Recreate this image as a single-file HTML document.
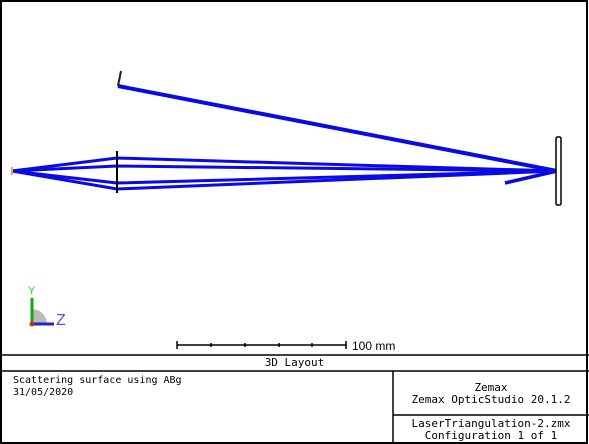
<!DOCTYPE html>
<html><head><meta charset="utf-8">
<style>
html,body{margin:0;padding:0;background:#fff;}
#wrap{position:relative;width:589px;height:444px;overflow:hidden;background:#fff;}
.t{position:absolute;font-family:"DejaVu Sans Mono","Liberation Mono",monospace;font-size:11px;color:#000;white-space:pre;line-height:12px;}
</style></head>
<body>
<div id="wrap">
<svg id="svg" width="589" height="444" style="position:absolute;left:0;top:0">
  <rect x="1" y="1" width="586" height="442" fill="none" stroke="#000" stroke-width="2"/>
  <line x1="0" y1="355" x2="589" y2="355" stroke="#000" stroke-width="1.5"/>
  <line x1="0" y1="371" x2="589" y2="371" stroke="#000" stroke-width="1.5"/>
  <line x1="393" y1="371" x2="393" y2="444" stroke="#000" stroke-width="1.5"/>
  <line x1="393" y1="415" x2="589" y2="415" stroke="#000" stroke-width="1.5"/>
  <g id="rays"></g>
  <line x1="117" y1="151" x2="117" y2="193" stroke="#000" stroke-width="2"/>
  <line x1="118" y1="86" x2="121" y2="71" stroke="#222" stroke-width="2"/>
  <rect x="556" y="137" width="5" height="68" rx="1.5" fill="#fff" stroke="#000" stroke-width="1.5"/>
  <line x1="12" y1="167" x2="12" y2="175" stroke="#f0a060" stroke-width="2"/>
  <path d="M32 309 A15 15 0 0 1 47 324 L32 324 Z" fill="#bbb"/>
  <line x1="32" y1="325" x2="32" y2="298" stroke="#1a1" stroke-width="3"/>
  <line x1="31" y1="324" x2="54" y2="324" stroke="#22c" stroke-width="3"/>
  <circle cx="32" cy="324" r="2.5" fill="#d22"/>
  <text x="28" y="294" font-family="Liberation Sans,sans-serif" font-size="11" fill="#3c3">Y</text>
  <text x="56" y="325" font-family="Liberation Sans,sans-serif" font-size="16" fill="#55c">Z</text>
  <g stroke="#000" stroke-width="1.5">
    <line x1="177" y1="345" x2="346" y2="345"/>
    <line x1="177" y1="341" x2="177" y2="349"/>
    <line x1="346" y1="341" x2="346" y2="349"/>
    <line x1="211" y1="343" x2="211" y2="347"/>
    <line x1="245" y1="343" x2="245" y2="347"/>
    <line x1="279" y1="343" x2="279" y2="347"/>
    <line x1="312" y1="343" x2="312" y2="347"/>
  </g>
  <text x="352" y="350" font-family="Liberation Sans,sans-serif" font-size="12" fill="#000">100 mm</text>
</svg>
<div class="t" style="left:0;width:589px;top:357px;text-align:center">3D Layout</div>
<div class="t" style="left:13px;top:375px;font-size:10px">Scattering surface using ABg
31/05/2020</div>
<div class="t" style="left:393px;width:196px;top:382px;text-align:center">Zemax
Zemax OpticStudio 20.1.2</div>
<div class="t" style="left:393px;width:196px;top:418px;text-align:center">LaserTriangulation-2.zmx
Configuration 1 of 1</div>
</div>
<script>
const rayXs = [12, 117, 557];
const rayY1 = [171, 158, 171];
const rayY2 = [171, 166, 171];
const rayY3 = [171, 183, 171];
const rayY4 = [171, 189, 171];
const reflectedRay = [[557, 171], [118, 86]];
const scatterStub = [[557, 171], [505, 183]];
const g = document.getElementById('rays');
const ns = 'http://www.w3.org/2000/svg';
function poly(pts, name, w) {
  const p = document.createElementNS(ns, 'polyline');
  p.setAttribute('points', pts.map(q => q.join(',')).join(' '));
  p.setAttribute('fill', 'none');
  p.setAttribute('stroke', '#0a0ae6');
  p.setAttribute('stroke-width', w);
  
  
  g.appendChild(p);
}
[rayY1, rayY2, rayY3, rayY4].forEach((ys, i) => {
  poly(rayXs.map((x, j) => [x, ys[j]]), 'ray-' + (i + 1), '3');
});
poly(reflectedRay, 'reflected-ray', '4');
poly(scatterStub, 'scattered-ray-stub', '3.5');
</script>
</body></html>
